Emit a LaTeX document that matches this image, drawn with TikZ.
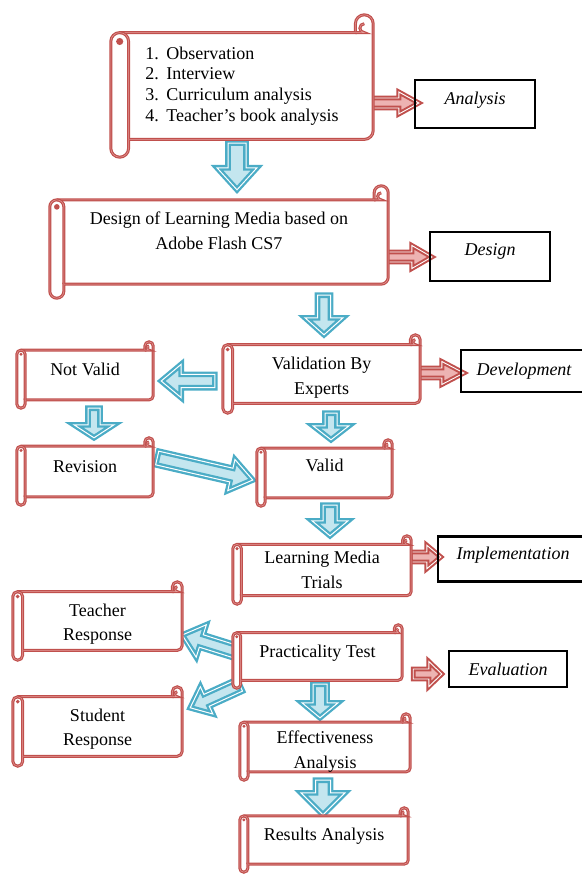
\documentclass[tikz,border=0pt]{standalone}
\usepackage{fontspec}
\setmainfont{Liberation Serif}
\usetikzlibrary{calc}
\definecolor{scrollred}{HTML}{C0504D}
\definecolor{scrollpink}{HTML}{E59C9A}
\definecolor{arrowblue}{HTML}{4BACC6}
\definecolor{arrowfill}{HTML}{C4E6EF}
\definecolor{redfill}{HTML}{EDB3B2}
\pgfdeclarelayer{bg}\pgfdeclarelayer{fr}\pgfsetlayers{bg,fr,main}
\newcommand\mainsize{\fontsize{18}{24.5}\selectfont}
\newcommand\listsize{\fontsize{18}{20.7}\selectfont}
\newcommand\scrollframe[1]{%
 \pgfpointanchor{#1}{north west}\pgfgetlastxy{\sL}{\sT}%
 \pgfpointanchor{#1}{south east}\pgfgetlastxy{\sR}{\sB}%
 \pgfmathsetlengthmacro\sC{min(\sR-\sL,\sT-(\sB))/8}%
 \pgfmathsetlengthmacro\sH{\sC/2}%
 \pgfmathsetlengthmacro\sQ{\sC/4}%
 \filldraw[scrollline, fill=white]
   (\sL,\sT-\sC-\sH) arc[start angle=180,end angle=90,radius=\sH]
   -- (\sR-\sC,\sT-\sC) -- (\sR-\sC,\sT-\sH) arc[start angle=180,end angle=0,radius=\sH]
   -- (\sR,\sB+\sC+\sH) arc[start angle=0,end angle=-90,radius=\sH]
   -- (\sL+\sC,\sB+\sC) -- (\sL+\sC,\sB+\sH) arc[start angle=0,end angle=-180,radius=\sH]
   -- cycle;
 \draw[scrollline] (\sL+\sH,\sT-\sC) arc[start angle=90,end angle=0,radius=\sH] -- (\sL+\sC,\sB+\sC);
 \draw[scrollline] (\sR-\sC,\sT-\sC) -- (\sR-\sH,\sT-\sC) arc[start angle=-90,end angle=-270,radius=\sQ];
 \fill[scrollred] (\sL+\sH,\sT-\sC-\sH) circle[radius=\sQ*0.8];
}
\newcommand\blockarrow[6]{%
 \coordinate (bh) at ($(#3)!#6!(#2)$);
 \draw[#1] ($(#2)!#4!-90:(#3)$) -- ($(bh)!#4!-90:(#3)$) -- ($(bh)!#5!-90:(#3)$) -- (#3)
   -- ($(bh)!#5!90:(#3)$) -- ($(bh)!#4!90:(#3)$) -- ($(#2)!#4!90:(#3)$) -- cycle;
}
\tikzset{
 scrollline/.style={draw=scrollred, line width=1.25pt, double=scrollpink, double distance=0.5pt},
 scrl/.style={inner sep=0pt, align=center, font=\mainsize},
 sz/.style 2 args={minimum width=#1pt, minimum height=#2pt},
 tshift/.style={text depth=#1pt},
 two/.style={text depth=0pt, text height=#1pt},
 phase/.style={draw=black, line width=2.3pt, inner sep=0pt, font=\mainsize\itshape},
 barrow/.style={draw=arrowblue, line width=2.3pt, double=white, double distance=1pt, fill=arrowfill, line join=miter},
 rarrow/.style={draw=scrollred, line width=2pt, double=white, double distance=0.9pt, fill=redfill, line join=miter},
}
\begin{document}
\begin{tikzpicture}[x=1pt,y=-1pt]
\useasboundingbox (0,0) rectangle (581,874);
% scroll nodes
\node[scrl, sz={262}{142}, align=left, font=\listsize] (s1) at (242,86)
  {\makebox[21pt][l]{1.}Observation\\\makebox[21pt][l]{2.}Interview\\\makebox[21pt][l]{3.}Curriculum analysis\\\makebox[21pt][l]{4.}Teacher’s book analysis};
\node[scrl, sz={338}{112}, tshift=23] (s2) at (219,242) {Design of Learning Media based on\\Adobe Flash CS7};
\node[scrl, sz={197}{78}, two=40.5] (val) at (321.5,374) {Validation By\\Experts};
\node[scrl, sz={136}{66}, tshift=12] (nv) at (85,375) {Not Valid};
\node[scrl, sz={136}{67}, tshift=9] (rev) at (85,471.5) {Revision};
\node[scrl, sz={135}{66}, tshift=16] (vd) at (324.5,473) {Valid};
\node[scrl, sz={178}{68}] (lmt) at (322,570) {Learning Media\\Trials};
\node[scrl, sz={169}{63}, tshift=11] (pt) at (317.5,656.5) {Practicality Test};
\node[scrl, sz={169}{78}, two=39.5] (tr) at (97.5,621) {Teacher\\Response};
\node[scrl, sz={169}{79}, two=38.5] (sr) at (97.5,726.5) {Student\\Response};
\node[scrl, sz={170}{66}, two=42.5] (ea) at (325,747) {Effectiveness\\Analysis};
\node[scrl, sz={168}{64}, tshift=12] (ra) at (324,840) {Results Analysis};
% phase boxes
\node[phase, sz={120}{48}, tshift=12] (ana) at (475,104) {Analysis};
\node[phase, sz={120}{49}, tshift=14] (des) at (490,256.5) {Design};
\node[phase, sz={131}{42}] (dev) at (526.5,371) {\hspace*{-5pt}Development};
\node[phase, sz={154}{45}, tshift=12] (imp) at (515,559) {\hspace*{-4pt}Implementation};
\node[phase, sz={118}{36}] (evl) at (508,669) {Evaluation};
% scroll frames
\begin{pgfonlayer}{fr}
\foreach \n in {s1,s2,val,nv,rev,vd,lmt,pt,tr,sr,ea,ra} {\scrollframe{\n}}
\end{pgfonlayer}
% arrows
\begin{pgfonlayer}{bg}
\coordinate (b1s) at ($(s1.south)+(-5,-14)$);   \coordinate (b1e) at ($(s2.north)+(18,4)$);
\coordinate (b2s) at ($(s2.south)+(105,-3)$);   \coordinate (b2e) at ($(val.north)+(2.5,0)$);
\coordinate (b3s) at ($(val.west)+(-8,7)$);     \coordinate (b3e) at ($(nv.east)+(8,6)$);
\coordinate (b4s) at ($(nv.south)+(9,0)$);      \coordinate (b4e) at ($(rev.north)+(9,0)$);
\coordinate (b5s) at ($(rev.east)+(4,-13.5)$);  \coordinate (b5e) at ($(vd.west)+(-4,7)$);
\coordinate (b6s) at ($(val.south)+(9.5,0)$);   \coordinate (b6e) at ($(vd.north)+(6.5,0)$);
\coordinate (b7s) at ($(vd.south)+(5.5,-1)$);   \coordinate (b7e) at ($(lmt.north)+(8,0)$);
\coordinate (b8s) at ($(pt.west)+(7,-3.5)$);    \coordinate (b8e) at ($(tr.east)+(0,14)$);
\coordinate (b9s) at ($(pt.south west)+(7,-3)$);\coordinate (b9e) at ($(sr.north east)+(8,21)$);
\coordinate (b10s) at ($(pt.south)+(2.5,-4)$);  \coordinate (b10e) at ($(ea.north)+(-5,4)$);
\coordinate (b11s) at ($(ea.south)+(-2,0)$);    \coordinate (b11e) at ($(ra.north)+(-1,7)$);
\blockarrow{barrow}{b1s}{b1e}{9pt}{20pt}{22pt}
\blockarrow{barrow}{b2s}{b2e}{6.5pt}{19pt}{17pt}
\blockarrow{barrow}{b3s}{b3e}{6.7pt}{16.7pt}{20pt}
\blockarrow{barrow}{b4s}{b4e}{6pt}{20pt}{13pt}
\blockarrow{barrow}{b5s}{b5e}{7pt}{16pt}{22pt}
\blockarrow{barrow}{b6s}{b6e}{6pt}{18pt}{14pt}
\blockarrow{barrow}{b7s}{b7e}{7pt}{18pt}{15pt}
\blockarrow{barrow}{b8s}{b8e}{6.5pt}{17pt}{20pt}
\blockarrow{barrow}{b9s}{b9e}{6.5pt}{15pt}{18pt}
\blockarrow{barrow}{b10s}{b10e}{7pt}{18pt}{15pt}
\blockarrow{barrow}{b11s}{b11e}{7.5pt}{22pt}{22pt}
\coordinate (r1s) at ($(s1.east)+(-3,17)$);   \coordinate (r1e) at ($(ana.west)+(5,-1)$);
\coordinate (r2s) at ($(s2.east)+(-5,15)$);   \coordinate (r2e) at ($(des.west)+(3,0.5)$);
\coordinate (r3s) at ($(val.east)+(-5,-1)$);  \coordinate (r3e) at ($(dev.west)+(4,2)$);
\coordinate (r4s) at ($(lmt.east)+(-1,-13)$); \coordinate (r4e) at ($(imp.west)+(4,-2)$);
\coordinate (r5s) at ($(pt.east)+(11,17.5)$); \coordinate (r5e) at ($(evl.west)+(-6,5)$);
\blockarrow{rarrow}{r1s}{r1e}{5pt}{11pt}{20pt}
\blockarrow{rarrow}{r2s}{r2e}{5pt}{11.5pt}{20pt}
\blockarrow{rarrow}{r3s}{r3e}{5pt}{11.5pt}{22pt}
\blockarrow{rarrow}{r4s}{r4e}{5pt}{11.7pt}{14pt}
\blockarrow{rarrow}{r5s}{r5e}{5pt}{12.5pt}{13pt}
\end{pgfonlayer}
\end{tikzpicture}
\end{document}
